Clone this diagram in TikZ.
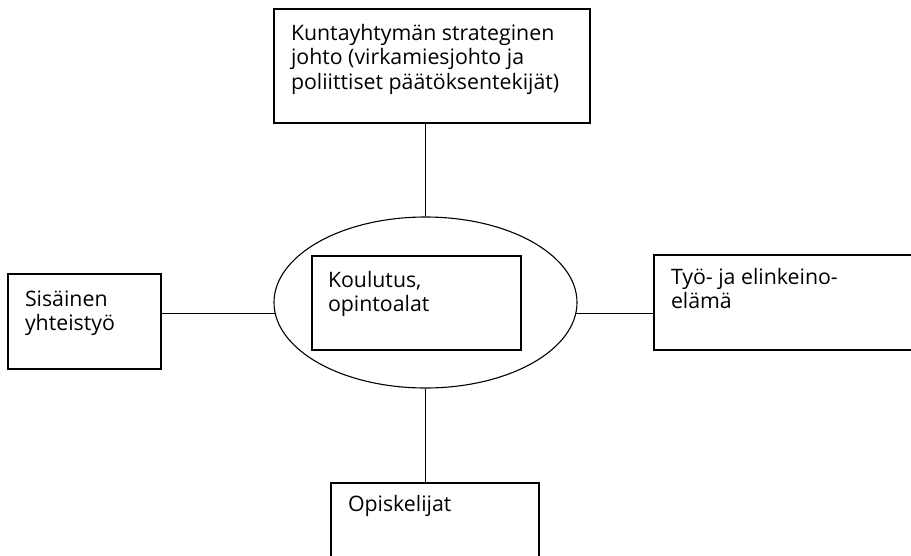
\documentclass[tikz,border=0pt]{standalone}
\usepackage{fontspec}
\setmainfont{Open Sans}
\usepackage{tikz}
\usetikzlibrary{shapes.geometric}

\begin{document}
\begin{tikzpicture}[x=1pt, y=-1pt, line width=1.1pt,
    box/.style={draw, rectangle, inner sep=0pt},
    txt/.style={anchor=north west, inner sep=0pt, align=left,
        font=\fontsize{21.3}{24.2}\selectfont}]
    % page frame
    \useasboundingbox (0,0) rectangle (911,555);
    \clip (0,0) rectangle (911,555);

    % centre: ellipse with inner box
    \node[draw, ellipse, minimum width=303pt, minimum height=171pt, inner sep=0pt] (ell) at (425.5,302.5) {};
    \node[box, minimum width=209pt, minimum height=94pt] (koul) at (416.5,303) {};
    \node[txt] (koultxt) at ([xshift=16pt, yshift=-15pt]koul.north west) {Koulutus,\\opintoalat};

    % strategic management
    \node[box, minimum width=316pt, minimum height=114pt] (johto) at (432,66) {};
    \node[txt] (johtotxt) at ([xshift=17pt, yshift=-15.5pt]johto.north west)
        {Kuntayhtymän strateginen\\johto (virkamiesjohto ja\\poliittiset päätöksentekijät)};

    % internal cooperation
    \node[box, minimum width=153pt, minimum height=95pt] (sis) at (84.5,321.5) {};
    \node[txt] (sistxt) at ([xshift=17pt, yshift=-17pt]sis.north west) {Sisäinen\\yhteistyö};

    % working life (runs off the page)
    \node[box, minimum width=300pt, minimum height=95pt] (tyo) at (804,302.5) {};
    \node[txt] (tyotxt) at ([xshift=17pt, yshift=-13.5pt]tyo.north west) {Työ- ja elinkeino-\\elämä};

    % students (runs off the page)
    \node[box, minimum width=208pt, minimum height=107pt] (opisk) at (435,536.5) {};
    \node[txt] (opisktxt) at ([xshift=17pt, yshift=-12pt]opisk.north west) {Opiskelijat};

    % connectors
    \draw (ell.north) -- (ell.north |- johto.south);
    \draw (ell.south) -- (ell.south |- opisk.north);
    \draw (ell.184) -- (ell.184 -| sis.east);
    \draw (ell.-4) -- (ell.-4 -| tyo.west);
\end{tikzpicture}
\end{document}
